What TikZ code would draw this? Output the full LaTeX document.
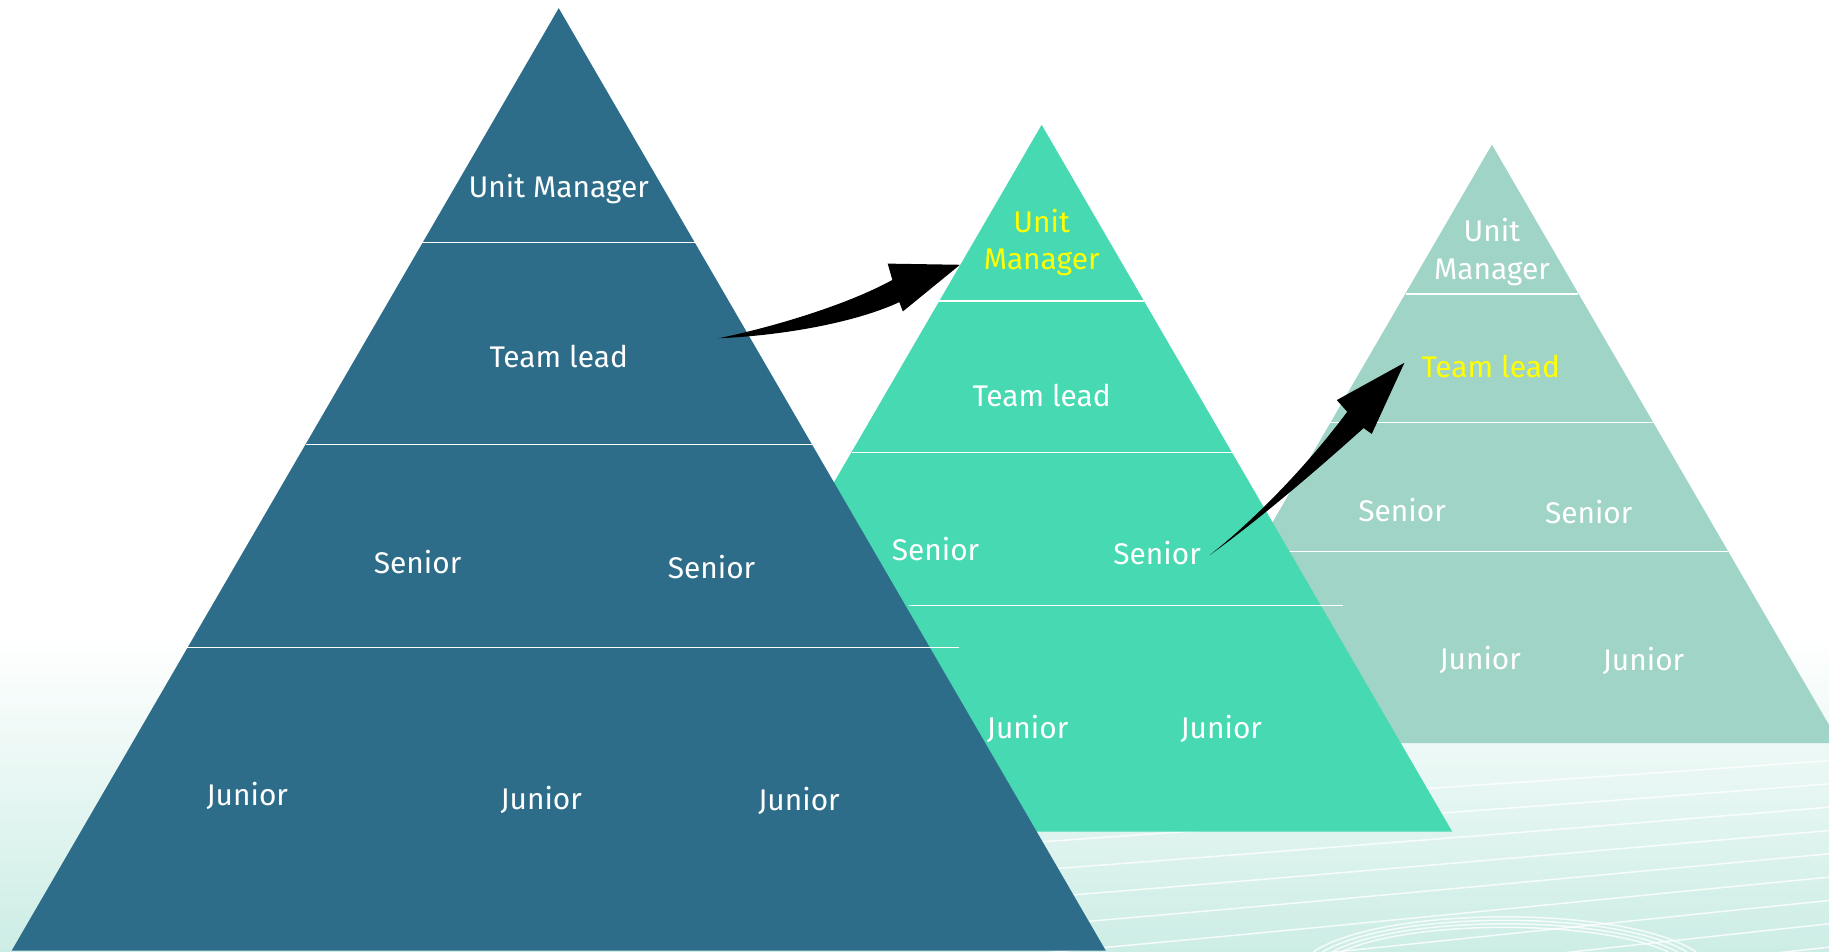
\documentclass[tikz,border=0pt]{standalone}
\usepackage{fontspec}
\setmainfont{Fira Sans}
\definecolor{darkpyr}{RGB}{46,109,138}
\definecolor{greenpyr}{RGB}{71,217,178}
\definecolor{graypyr}{RGB}{160,212,199}
\definecolor{bgmint}{RGB}{204,237,229}
\definecolor{hlyellow}{RGB}{255,255,0}
\begin{document}
\begin{tikzpicture}[x=1pt,y=-1pt,
  lbl/.style={text=white,font=\fontsize{25.6}{32}\selectfont,inner sep=0pt,align=center},
  hl/.style={text=hlyellow},
  divider/.style={draw=white,line width=1.1pt},
  wave/.style={draw=white,line width=1.3pt,opacity=0.8},
  blockarrow/.style={fill=black}]
\useasboundingbox (0,0) rectangle (1568,816);
\fill[white] (0,0) rectangle (1568,816);
\shade[top color=white,bottom color=bgmint] (0,545) rectangle (1568,816);
% background waves
\foreach \k in {0,...,8}{
  \draw[wave] (860,{700+\k*24}) .. controls (1100,{684+\k*23}) and (1350,{668+\k*21}) .. (1568,{652+\k*20});
}
\foreach \k in {0,...,3}{
  \draw[wave] ({1150-\k*8},816) .. controls ({1210-\k*8},{788-\k*4}) and ({1370+\k*8},{788-\k*4}) .. ({1430+\k*8},816);
}
% gray pyramid
\fill[graypyr] (1279,124) -- (1577,637) -- (981,637) -- cycle;
\draw[divider] (1205,252) -- (1353,252);
\draw[divider] (1140,362) -- (1417,362);
\draw[divider] (1092,473) -- (1481,473);
\node[lbl] (gum) at (1279,216) {Unit\\Manager};
\node[lbl,hl] (gtl) at (1278,314) {Team lead};
\node[lbl] (gs1) at (1202,437) {Senior};
\node[lbl] (gs2) at (1362,439) {Senior};
\node[lbl] (gj1) at (1269,566) {Junior};
\node[lbl] (gj2) at (1409,567) {Junior};
% green pyramid
\fill[greenpyr] (893,107) -- (1245,713) -- (541,713) -- cycle;
\draw[divider] (805,258) -- (981,258);
\draw[divider] (730,388) -- (1056,388);
\draw[divider] (779,519) -- (1151,519);
\node[lbl,hl] (cum) at (893,208) {Unit\\Manager};
\node[lbl] (ctl) at (893,339) {Team lead};
\node[lbl] (cs1) at (802,471) {Senior};
\node[lbl] (cs2) at (992,474) {Senior};
\node[lbl] (cj1) at (881,625) {Junior};
\node[lbl] (cj2) at (1047,625) {Junior};
% dark pyramid
\fill[darkpyr] (479,7) -- (948,815) -- (10,815) -- cycle;
\draw[divider] (362,208) -- (596,208);
\draw[divider] (262,381) -- (696,381);
\draw[divider] (160,555) -- (822,555);
\node[lbl] (dum) at (479,162) {Unit Manager};
\node[lbl] (dtl) at (479,306) {Team lead};
\node[lbl] (ds1) at (358,482) {Senior};
\node[lbl] (ds2) at (610,486) {Senior};
\node[lbl] (dj1) at (212,682) {Junior};
\node[lbl] (dj2) at (464,686) {Junior};
\node[lbl] (dj3) at (685,687) {Junior};
% arrows
\coordinate (a1tail) at (616,290);
\coordinate (a1tip) at (823,227);
\coordinate (a2tail) at (1037,476);
\coordinate (a2tip) at (1204,311);
\fill[blockarrow] (a1tail) .. controls (660,281) and (725,262) .. (765,240)
  -- (761,226) -- (a1tip) -- (774,267) -- (771,259)
  .. controls (730,278) and (665,288) .. (a1tail) -- cycle;
\fill[blockarrow] (a2tail) .. controls (1075,446) and (1120,400) .. (1155,353)
  -- (1146,343) -- (a2tip) -- (1176,372) -- (1169,367)
  .. controls (1130,402) and (1080,445) .. (a2tail) -- cycle;
\end{tikzpicture}
\end{document}
